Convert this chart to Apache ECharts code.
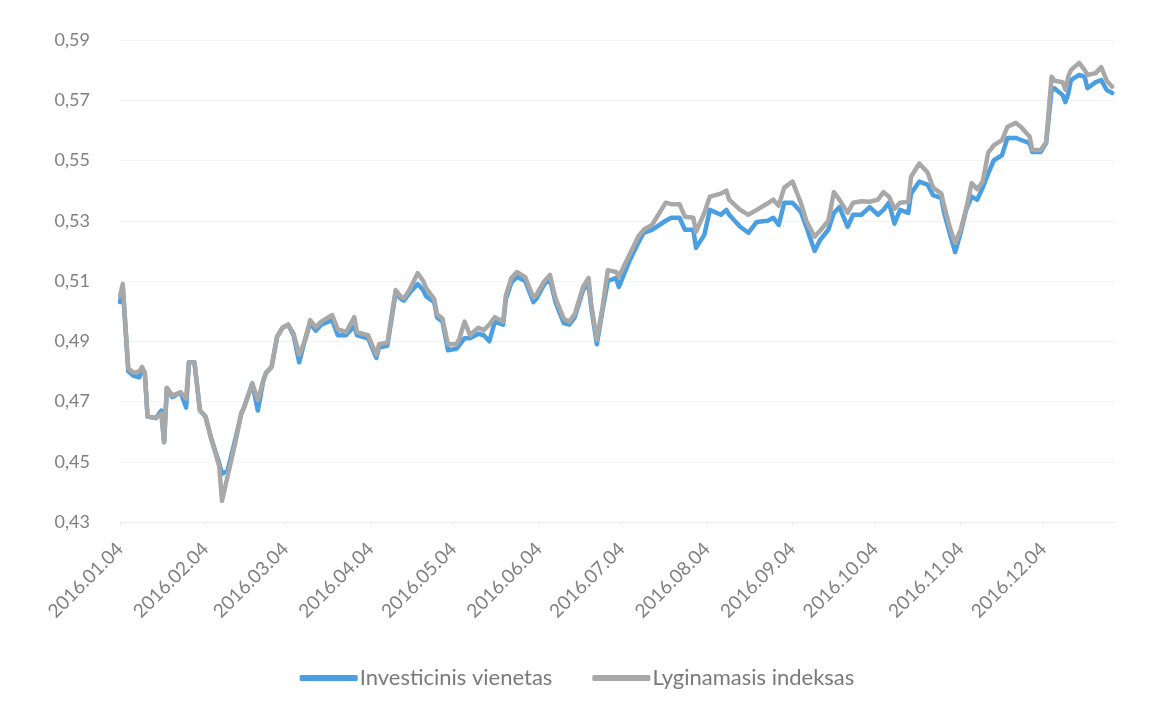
<!DOCTYPE html>
<html>
<head>
<meta charset="utf-8">
<script src="https://cdn.jsdelivr.net/npm/echarts@6/dist/echarts.min.js"></script>
<style>
html,body{margin:0;padding:0;background:#fff;}
#chart{width:1154px;height:710px;}
</style>
</head>
<body>
<div id="chart"></div>
<script>
// ---- DATA ----
const sampleDates = [
  '2016.01.04','2016.01.05','2016.01.07','2016.01.09','2016.01.11','2016.01.12','2016.01.13','2016.01.14','2016.01.17','2016.01.19',
  '2016.01.20','2016.01.21','2016.01.23','2016.01.26','2016.01.28','2016.01.29','2016.01.31',
  '2016.02.02','2016.02.04','2016.02.06','2016.02.09','2016.02.10','2016.02.12','2016.02.15','2016.02.17','2016.02.18','2016.02.21',
  '2016.02.23','2016.02.25','2016.02.26','2016.02.28',
  '2016.03.01','2016.03.03','2016.03.05','2016.03.07','2016.03.09','2016.03.11','2016.03.13','2016.03.15','2016.03.17','2016.03.21',
  '2016.03.23','2016.03.26','2016.03.29','2016.03.30',
  '2016.04.03','2016.04.06','2016.04.07','2016.04.10','2016.04.13','2016.04.15','2016.04.16','2016.04.18','2016.04.21','2016.04.23',
  '2016.04.24','2016.04.27','2016.04.28','2016.04.30',
  '2016.05.02','2016.05.05','2016.05.06','2016.05.08','2016.05.10','2016.05.13','2016.05.15','2016.05.17','2016.05.19','2016.05.22',
  '2016.05.23','2016.05.25','2016.05.27','2016.05.30',
  '2016.06.02','2016.06.03','2016.06.06','2016.06.08','2016.06.10','2016.06.13','2016.06.15','2016.06.17','2016.06.20','2016.06.22',
  '2016.06.23','2016.06.25','2016.06.27','2016.06.29',
  '2016.07.02','2016.07.03','2016.07.07','2016.07.10','2016.07.12','2016.07.15','2016.07.20','2016.07.22','2016.07.25','2016.07.27',
  '2016.07.30','2016.07.31',
  '2016.08.03','2016.08.05','2016.08.09','2016.08.11','2016.08.12','2016.08.16','2016.08.19','2016.08.22','2016.08.26','2016.08.28',
  '2016.08.30',
  '2016.09.01','2016.09.04','2016.09.07','2016.09.09','2016.09.12','2016.09.14','2016.09.17','2016.09.19','2016.09.21','2016.09.24',
  '2016.09.26','2016.09.29',
  '2016.10.02','2016.10.05','2016.10.07','2016.10.09','2016.10.11','2016.10.13','2016.10.16','2016.10.17','2016.10.20','2016.10.23',
  '2016.10.25','2016.10.28','2016.10.29','2016.10.31',
  '2016.11.02','2016.11.04','2016.11.06','2016.11.08','2016.11.10','2016.11.12','2016.11.14','2016.11.16','2016.11.19','2016.11.21',
  '2016.11.24','2016.11.26','2016.11.29','2016.11.30',
  '2016.12.03','2016.12.05','2016.12.07','2016.12.08','2016.12.11','2016.12.12','2016.12.13','2016.12.14','2016.12.17','2016.12.19',
  '2016.12.20','2016.12.23','2016.12.25','2016.12.27','2016.12.29'
];

const investicinisVienetas = [
  0.503,0.508,0.480,0.4785,0.478,0.481,0.4795,0.465,0.4645,0.467,
  0.4565,0.4745,0.4715,0.473,0.468,0.483,0.483,
  0.467,0.465,0.458,0.4495,0.446,0.447,0.458,0.466,0.468,0.476,
  0.467,0.477,0.4795,0.4815,
  0.4915,0.4945,0.4955,0.492,0.483,0.490,0.496,0.4935,0.4955,0.497,
  0.492,0.492,0.495,0.492,
  0.491,0.4845,0.488,0.4885,0.506,0.504,0.5035,0.506,0.509,0.507,
  0.505,0.503,0.498,0.4965,
  0.487,0.4875,0.4885,0.491,0.491,0.4925,0.492,0.490,0.4965,0.4955,
  0.504,0.5095,0.5113,0.510,
  0.503,0.504,0.509,0.5105,0.503,0.496,0.4955,0.498,0.507,0.509,
  0.501,0.489,0.500,0.510,
  0.511,0.508,0.517,0.5226,0.526,0.527,0.530,0.531,0.531,0.527,
  0.527,0.521,
  0.5253,0.5336,0.532,0.5336,0.532,0.528,0.526,0.5296,0.530,0.531,
  0.5286,
  0.536,0.536,0.533,0.528,0.520,0.5236,0.527,0.5326,0.5345,0.528,
  0.532,0.532,
  0.5345,0.532,0.5336,0.536,0.529,0.5336,0.5326,0.539,0.543,0.542,
  0.5385,0.5375,0.5326,0.526,
  0.5196,0.526,0.5336,0.538,0.537,0.541,0.5457,0.550,0.5518,0.5575,
  0.5575,0.5568,0.5558,0.5528,
  0.5528,0.5558,0.5734,0.574,0.5717,0.5694,0.572,0.5767,0.5784,0.5778,
  0.574,0.576,0.5767,0.5734,0.5724
];

const lyginamasisIndeksas = [
  0.505,0.509,0.481,0.4795,0.480,0.4815,0.4795,0.465,0.4645,0.466,
  0.4565,0.4745,0.472,0.473,0.471,0.483,0.483,
  0.467,0.465,0.458,0.4485,0.437,0.445,0.457,0.466,0.468,0.476,
  0.4705,0.477,0.4795,0.4815,
  0.4915,0.4945,0.4955,0.4925,0.4855,0.490,0.497,0.4947,0.4965,0.4987,
  0.494,0.493,0.498,0.493,
  0.492,0.4855,0.489,0.4895,0.507,0.5047,0.5043,0.507,0.5126,0.510,
  0.5077,0.504,0.499,0.4975,
  0.489,0.489,0.4905,0.4965,0.492,0.4945,0.4937,0.4955,0.498,0.4965,
  0.5053,0.511,0.513,0.5113,
  0.5045,0.5053,0.510,0.512,0.5043,0.4975,0.4965,0.499,0.508,0.511,
  0.502,0.4905,0.501,0.5136,
  0.513,0.5115,0.519,0.5247,0.527,0.5286,0.536,0.5355,0.5355,0.5313,
  0.531,0.5263,
  0.5326,0.538,0.539,0.540,0.537,0.5336,0.532,0.5336,0.5358,0.537,
  0.535,
  0.541,0.543,0.536,0.530,0.5247,0.5267,0.530,0.5395,0.537,0.5326,
  0.536,0.5365,
  0.5363,0.537,0.5395,0.538,0.534,0.536,0.5363,0.5446,0.549,0.546,
  0.541,0.539,0.535,0.528,
  0.5226,0.527,0.534,0.5425,0.5405,0.543,0.5526,0.555,0.5568,0.5612,
  0.5625,0.561,0.558,0.5535,
  0.5535,0.556,0.5778,0.5765,0.576,0.5735,0.5778,0.580,0.5824,0.580,
  0.5784,0.579,0.581,0.5765,0.5745
];

const xTickLabels = ['2016.01.04','2016.02.04','2016.03.04','2016.04.04','2016.05.04','2016.06.04',
  '2016.07.04','2016.08.04','2016.09.04','2016.10.04','2016.11.04','2016.12.04'];
const yMin = 0.43, yMax = 0.59, yStep = 0.02;
const seriesNames = ['Investicinis vienetas', 'Lyginamasis indeksas'];

// ---- calendar-day category axis (Excel date axis) ----
function pad(n){ return (n < 10 ? '0' : '') + n; }
const categories = [];
for (let t = Date.UTC(2016,0,4); t <= Date.UTC(2016,11,30); t += 86400000) {
  const d = new Date(t);
  categories.push(d.getUTCFullYear() + '.' + pad(d.getUTCMonth()+1) + '.' + pad(d.getUTCDate()));
}
const tickSet = new Set(xTickLabels);
function toSeries(values){
  const map = {};
  sampleDates.forEach((d,i) => { map[d] = values[i]; });
  // shifted by yMin so the axis can start its ticks at 0 with a 0.02 step
  return categories.map(c => (c in map) ? +(map[c] - yMin).toFixed(5) : null);
}

const chart = echarts.init(document.getElementById('chart'), null, {renderer:'canvas'});
const FONT = 'Lato, "Open Sans", sans-serif';
chart.setOption({
  animation: false,
  backgroundColor: '#ffffff',
  grid: { left: 120, right: 39, top: 40, bottom: 188 },
  legend: {
    data: seriesNames,
    left: 'center',
    top: 662,
    itemWidth: 58,
    itemHeight: 6,
    itemGap: 40,
    icon: 'roundRect',
    textStyle: { color: '#7a7a7a', fontSize: 22, fontFamily: FONT, padding: [0,0,0,-3] }
  },
  xAxis: {
    type: 'category',
    data: categories,
    boundaryGap: false,
    axisLine: { show: true, lineStyle: { color: '#ececec', width: 1 } },
    axisTick: { show: true, interval: (i, v) => tickSet.has(v), length: 4, lineStyle: { color: '#ececec' } },
    axisLabel: {
      interval: (i, v) => tickSet.has(v),
      rotate: 45,
      margin: 24,
      color: '#808080',
      fontSize: 19,
      fontFamily: FONT
    },
    splitLine: { show: false }
  },
  yAxis: {
    type: 'value',
    min: 0,
    max: +(yMax - yMin).toFixed(5),
    interval: yStep,
    axisLine: { show: false },
    axisTick: { show: false },
    axisLabel: {
      color: '#808080',
      fontSize: 18,
      fontFamily: FONT,
      margin: 30,
      formatter: v => (v + yMin).toFixed(2).replace('.', ',')
    },
    splitLine: { show: true, lineStyle: { color: '#f3f3f3', width: 1 } }
  },
  series: [
    {
      name: seriesNames[0],
      type: 'line',
      data: toSeries(investicinisVienetas),
      connectNulls: true,
      showSymbol: false,
      symbol: 'none',
      color: '#4a9fe3',
      lineStyle: { color: '#4a9fe3', width: 4.5, cap: 'round', join: 'round' },
      z: 2
    },
    {
      name: seriesNames[1],
      type: 'line',
      data: toSeries(lyginamasisIndeksas),
      connectNulls: true,
      showSymbol: false,
      symbol: 'none',
      color: '#a8a8a8',
      lineStyle: { color: '#a8a8a8', width: 4.5, cap: 'round', join: 'round' },
      z: 3
    }
  ]
});
</script>
</body>
</html>
